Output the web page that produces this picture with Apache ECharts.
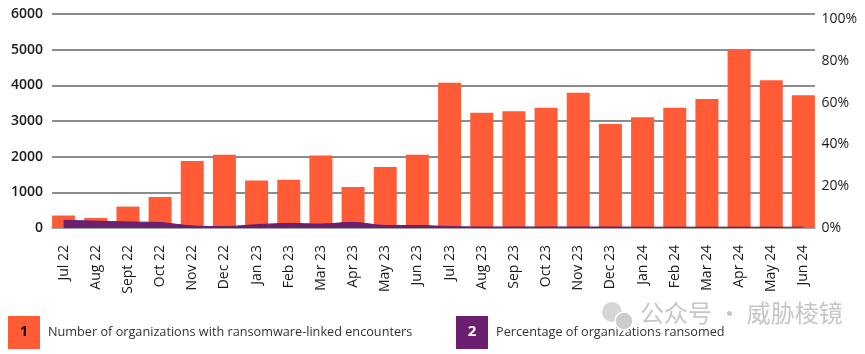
<!DOCTYPE html>
<html>
<head>
<meta charset="utf-8">
<script src="https://cdn.jsdelivr.net/npm/echarts@6/dist/echarts.min.js"></script>
<style>
  html, body { margin: 0; padding: 0; background: #fff; }
  #chart { width: 865px; height: 354px; }
</style>
</head>
<body>
<div id="chart"></div>
<script>
// months
const months = ['Jul 22', 'Aug 22', 'Sept 22', 'Oct 22', 'Nov 22', 'Dec 22', 'Jan 23', 'Feb 23',
  'Mar 23', 'Apr 23', 'May 23', 'Jun 23', 'Jul 23', 'Aug 23', 'Sep 23', 'Oct 23', 'Nov 23',
  'Dec 23', 'Jan 24', 'Feb 24', 'Mar 24', 'Apr 24', 'May 24', 'Jun 24'];

// 1: organizations with ransomware-linked encounters
const encounters = [350, 280, 600, 870, 1880, 2055, 1330, 1355, 2030, 1150, 1710, 2055,
  4075, 3230, 3270, 3375, 3795, 2915, 3105, 3375, 3615, 5000, 4140, 3720];

// 2: percentage ransomed
const ransomedPct = [3.7, 3.3, 2.9, 2.6, 1.0, 0.7, 1.6, 2.2, 1.9, 2.7, 1.2, 1.2,
  0.7, 0.5, 0.5, 0.5, 0.5, 0.5, 0.4, 0.4, 0.4, 0.4, 0.4, 0.4];

const leftTicks = [0, 6000, 1000];
const rightTicks = [0, 100, 20];

const nameBars = 'Number of organizations with ransomware-linked encounters';
const nameLine = 'Percentage of organizations ransomed';

const orange = '#FF5B37';
const purple = '#6B1F6E';
const font = '"Open Sans", "Noto Sans", sans-serif';

const chart = echarts.init(document.getElementById('chart'));

chart.setOption({
  animation: false,
  backgroundColor: '#fff',
  textStyle: { fontFamily: font },
  // grid 0: gridlines + left labels; grid 1: bars; grid 2: percentage area
  grid: [
    { left: 52, right: 50, top: 14, bottom: 126 },
    { left: 47.5, right: 45.5, top: 14, bottom: 126 },
    { left: 47.5, right: 45.5, top: 19, bottom: 126 }
  ],
  xAxis: [
    {
      gridIndex: 0, type: 'category', data: months,
      axisLine: { show: true, lineStyle: { color: '#aaa', width: 1.5 } },
      axisTick: { show: false }, axisLabel: { show: false }
    },
    {
      gridIndex: 1, type: 'category', data: months,
      axisLine: { show: false }, axisTick: { show: false },
      axisLabel: {
        rotate: 90, margin: 17, interval: 0,
        color: '#1a1a1a', fontSize: 14, fontWeight: 500, fontFamily: font
      }
    },
    {
      gridIndex: 2, type: 'category', data: months, show: false
    }
  ],
  yAxis: [
    {
      gridIndex: 0, type: 'value',
      min: leftTicks[0], max: leftTicks[1], interval: leftTicks[2],
      axisLine: { show: false }, axisTick: { show: false },
      axisLabel: {
        margin: 9, color: '#1a1a1a', fontSize: 14, fontWeight: 600, fontFamily: font,
        formatter: v => String(v)
      },
      splitLine: { lineStyle: { color: '#8c8c8c', width: 1.8 } }
    },
    {
      gridIndex: 1, type: 'value', min: leftTicks[0], max: leftTicks[1], show: false
    },
    {
      gridIndex: 2, type: 'value', position: 'right',
      min: rightTicks[0], max: rightTicks[1], interval: rightTicks[2],
      axisLine: { show: false }, axisTick: { show: false },
      splitLine: { show: false },
      axisLabel: { margin: 2, color: '#1a1a1a', fontSize: 14, fontFamily: font, formatter: '{value}%' }
    }
  ],
  legend: [
    {
      data: [nameBars], left: 8, top: 316, padding: 0, icon: 'rect',
      itemWidth: 32, itemHeight: 33, selectedMode: false,
      textStyle: { color: '#333', fontSize: 12.7, fontFamily: font, padding: [0, 0, 0, 3] }
    },
    {
      data: [nameLine], left: 456, top: 316, padding: 0, icon: 'rect',
      itemWidth: 32, itemHeight: 33, selectedMode: false,
      textStyle: { color: '#333', fontSize: 12.7, fontFamily: font, padding: [0, 0, 0, 3] }
    }
  ],
  series: [
    {
      name: nameBars, type: 'bar', xAxisIndex: 1, yAxisIndex: 1,
      data: encounters, barWidth: 23,
      itemStyle: { color: orange }, z: 2
    },
    {
      name: nameLine, type: 'line', xAxisIndex: 2, yAxisIndex: 2,
      data: ransomedPct, symbol: 'none', smooth: 0.3,
      lineStyle: { color: purple, width: 1 },
      itemStyle: { color: purple },
      areaStyle: { color: purple, opacity: 1 }, z: 3
    }
  ],
  graphic: [
    { type: 'text', z: 100, x: 24, y: 332,
      style: { text: '1', fill: '#111', font: 'bold 15px ' + font, align: 'center', verticalAlign: 'middle' } },
    { type: 'text', z: 100, x: 472, y: 332,
      style: { text: '2', fill: '#fff', font: 'bold 15px ' + font, align: 'center', verticalAlign: 'middle' } },
    // watermark
    { type: 'circle', z: 90, shape: { cx: 612, cy: 312, r: 10 }, style: { fill: '#d6d6d6' } },
    { type: 'circle', z: 91, shape: { cx: 624, cy: 321, r: 9 }, style: { fill: '#cdcdcd', stroke: '#fff', lineWidth: 1.5 } },
    { type: 'text', z: 92, left: 640, top: 301,
      style: { text: '公众号 · 威胁棱镜', fill: '#c6c6c6', font: '24px "Noto Sans CJK SC", sans-serif' } }
  ]
});
</script>
</body>
</html>
